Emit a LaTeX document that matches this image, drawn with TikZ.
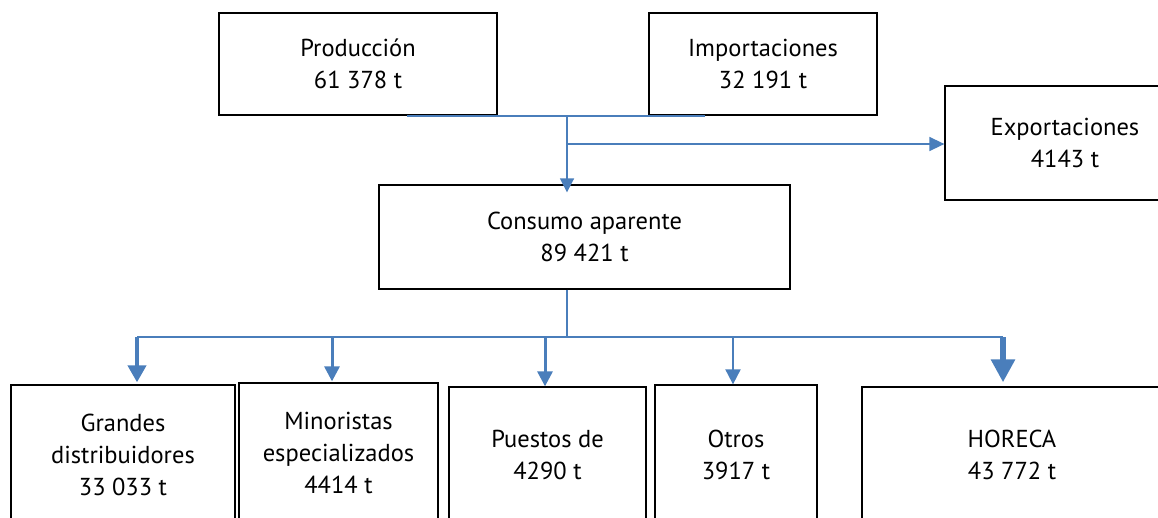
\documentclass[tikz,border=0pt]{standalone}
\usepackage{fontspec}
\setmainfont{PT Sans}
\usetikzlibrary{arrows.meta,calc}
\definecolor{flowblue}{RGB}{74,126,187}
\begin{document}
\begin{tikzpicture}[x=1pt,y=-1pt,
  box/.style={draw=black,line width=1.3pt,fill=white,align=center,inner sep=0pt,
    font=\fontsize{24.5}{32}\selectfont},
  flow/.style={draw=flowblue,line width=1.8pt},
]
\fill[white] (0,0) rectangle (1158,517);
\useasboundingbox (0,0) rectangle (1158,517);
% top boxes
\node[box,minimum width=278pt,minimum height=102pt] (prod) at (358,64) {Producción\\61 378 t};
\node[box,minimum width=228pt,minimum height=102pt] (imp) at (763,64) {Importaciones\\32 191 t};
\node[box,minimum width=240pt,minimum height=114pt] (exp) at (1065,143) {Exportaciones\\4143 t};
\node[box,minimum width=411pt,minimum height=104pt] (cons) at (584.5,237) {Consumo aparente\\89 421 t};
% bottom boxes
\node[box,minimum width=224pt,minimum height=140pt] (gd) at (123,455) {Grandes\\distribuidores\\33 033 t};
\node[box,minimum width=199pt,minimum height=140pt] (me) at (338.5,453) {Minoristas\\especializados\\4414 t};
\node[box,minimum width=197pt,minimum height=136pt] (pu) at (547.5,455) {Puestos de\\4290 t};
\node[box,minimum width=162pt,minimum height=140pt] (ot) at (736,455) {Otros\\3917 t};
\node[box,minimum width=300pt,minimum height=136pt] (ho) at (1012,455) {HORECA\\43 772 t};
% junctions
\coordinate (ja) at (567,115);
\coordinate (jb) at (567,144);
\coordinate (jc) at (567,337);
\coordinate (h1) at (137,337);
\coordinate (h2) at (332,337);
\coordinate (h3) at (545,337);
\coordinate (h4) at (733,337);
\coordinate (h5) at (1003,337);
% top connectors
\draw[flow] ([xshift=49pt]prod.south) -- ([xshift=-58pt]imp.south);
\draw[flow,line width=1.6pt,-{Triangle[length=14pt,width=14pt]}] (ja) -- ([yshift=-8pt]ja |- cons.north);
\draw[flow,line width=1.6pt,-{Triangle[length=15pt,width=14pt]}] (jb) -- (jb -| exp.west);
% bottom connectors
\draw[flow,line width=1.6pt] (jc |- cons.south) -- (jc);
\draw[flow] (h1) -- (h5);
\draw[flow,line width=4pt,-{Triangle[length=17pt,width=18pt]}] (h1) -- ([yshift=2pt]h1 |- gd.north);
\draw[flow,line width=3pt,-{Triangle[length=15pt,width=15pt]}] (h2) -- ([yshift=1pt]h2 |- me.north);
\draw[flow,line width=3pt,-{Triangle[length=15pt,width=15pt]}] (h3) -- (h3 |- pu.north);
\draw[flow,line width=2pt,-{Triangle[length=15pt,width=15pt]}] (h4) -- (h4 |- ot.north);
\draw[flow,line width=6pt,-{Triangle[length=23pt,width=23pt]}] (h5) -- ([yshift=4pt]h5 |- ho.north);
\end{tikzpicture}
\end{document}
